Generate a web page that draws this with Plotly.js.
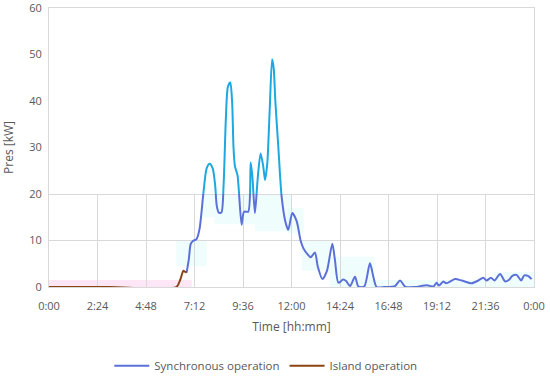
<!DOCTYPE html>
<html>
<head>
<meta charset="utf-8">
<script src="https://cdn.plot.ly/plotly-3.0.1.min.js"></script>
<style>html,body{margin:0;padding:0;background:#fff}#chart{width:550px;height:376px}</style>
</head>
<body>
<div id="chart"></div>
<script>
// Time in hours, power in kW
const syncTime = [6.81,6.92,7.01,7.12,7.3,7.45,7.64,7.8,7.95,8.1,8.22,8.3,8.4,8.53,8.64,8.75,8.85,8.97,9.06,9.13,9.2,9.33,9.53,9.65,9.86,9.98,10.06,10.19,10.33,10.47,10.6,10.69,10.8,10.92,11.04,11.12,11.2,11.35,11.51,11.7,11.84,12.04,12.26,12.45,12.59,12.8,12.95,13.16,13.3,13.53,13.75,14.02,14.15,14.32,14.55,14.7,14.9,15.14,15.31,15.6,15.88,16.05,16.21,16.6,17.12,17.37,17.62,18.1,18.69,19.02,19.18,19.3,19.51,19.65,20.09,20.42,20.91,21.24,21.49,21.65,21.87,22.05,22.32,22.57,22.75,22.93,23.14,23.36,23.52,23.7,23.88];
const syncPower = [3.1,6.0,9.2,9.9,10.3,12.5,20.2,25.5,26.5,25.5,22,17.5,16,16,22,36,43,44,40,30,26,24,13.4,16.2,16.2,26.8,24,15.9,23.5,28.7,26,23,26.5,38,49,47,40,30,19.5,14,12.3,15.9,14.1,10,8.3,7.0,6.4,7.4,4.4,1.7,3.4,9.3,5.8,0.9,1.6,1.3,0.2,2.2,0.1,0.1,5.1,2.2,0,0,0.2,1.4,0.1,0,0.4,0.1,0.9,0.3,1.2,0.8,1.7,1.4,0.8,1.4,2.0,1.4,2.0,1.4,2.8,1.2,1.5,2.4,2.6,1.4,2.5,2.4,1.7];
const islandTime = [0,3,6.3,6.49,6.65,6.72,6.81];
const islandPower = [0,0,0,1.5,3.5,3.3,3.1];
const tickVals = [0,2.4,4.8,7.2,9.6,12,14.4,16.8,19.2,21.6,24];
const tickText = ["0:00","2:24","4:48","7:12","9:36","12:00","14:24","16:48","19:12","21:36","0:00"];
// faint highlight bands [start h, end h, low kW, high kW]
const syncBandStart = [6.3,7.6,8.2,10.2,11.8,12.5,13.9,15.9,18.9,22.0];
const syncBandEnd   = [7.8,10.2,10.2,12.0,12.6,13.9,16.1,18.9,22.0,24.2];
const syncBandLow   = [4.5,15,13.5,12,11.5,3.5,0,0,0,0];
const syncBandHigh  = [10,20,15,20,17,10,6.5,1.5,1.5,3.3];
const islandBand = [0,7.06,0,1.5];

const font = "'Open Sans', 'Noto Sans', sans-serif";
const grey = "#595959";
const shapes = [];
for (let i=0;i<syncBandStart.length;i++){
  shapes.push({type:'rect',xref:'x',yref:'y',x0:syncBandStart[i],x1:syncBandEnd[i],y0:syncBandLow[i],y1:syncBandHigh[i],
    fillcolor:'rgba(210,250,250,0.35)',line:{width:0},layer:'below'});
}
shapes.push({type:'rect',xref:'x',yref:'y',x0:islandBand[0],x1:islandBand[1],y0:islandBand[2],y1:islandBand[3],
  fillcolor:'rgba(252,215,240,0.6)',line:{width:0},layer:'below'});

const spl = {shape:'spline',smoothing:0.7};
const traces = [
  {x:syncTime,y:syncPower,type:'scatter',mode:'lines',name:'Synchronous operation',
   line:Object.assign({color:'#5B70D9',width:2},spl),xaxis:'x',yaxis:'y'},
  {x:syncTime,y:syncPower,type:'scatter',mode:'lines',name:'Synchronous operation (upper)',showlegend:false,
   line:Object.assign({color:'#1DA8E0',width:2},spl),xaxis:'x2',yaxis:'y2',hoverinfo:'skip'},
  {x:islandTime,y:islandPower,type:'scatter',mode:'lines',name:'Island operation',
   line:Object.assign({color:'#8B4513',width:2},spl),xaxis:'x',yaxis:'y'}
];

const layout = {
  width:550,height:376,
  margin:{l:49,r:16,t:8,b:89,autoexpand:false},
  paper_bgcolor:'#fff',plot_bgcolor:'#fff',
  font:{family:font,size:11,color:grey},
  showlegend:true,
  legend:{orientation:'h',x:0.447,xanchor:'center',xref:'paper',y:0.027,yref:'container',yanchor:'middle',
    font:{size:11.5,color:grey},traceorder:'normal',itemwidth:35},
  xaxis:{range:[0,24],tickvals:tickVals,ticktext:tickText,showgrid:true,gridcolor:'#D9D9D9',gridwidth:1,
    zeroline:false,showline:true,linecolor:'#D9D9D9',mirror:true,ticks:'',automargin:false,ticklabelstandoff:9,
    ticklabeloverflow:'allow',
    title:{text:'Time [hh:mm]',font:{size:12,color:grey},standoff:10},tickfont:{size:11,color:grey},fixedrange:true},
  yaxis:{range:[0,60],dtick:10,showgrid:true,gridcolor:'#D9D9D9',gridwidth:1,zeroline:false,
    showline:true,linecolor:'#D9D9D9',mirror:true,ticks:'',automargin:false,ticklabelstandoff:4,
    ticklabeloverflow:'allow',
    title:{text:'Pres [kW]',font:{size:12,color:grey},standoff:14},tickfont:{size:11,color:grey},fixedrange:true},
  xaxis2:{range:[0,24],domain:[0,1],anchor:'y2',visible:false,fixedrange:true},
  yaxis2:{range:[20,60],domain:[20/60,1],anchor:'x2',visible:false,fixedrange:true},
  shapes:shapes
};
Plotly.newPlot('chart',traces,layout,{displayModeBar:false,staticPlot:true});
</script>
</body>
</html>
